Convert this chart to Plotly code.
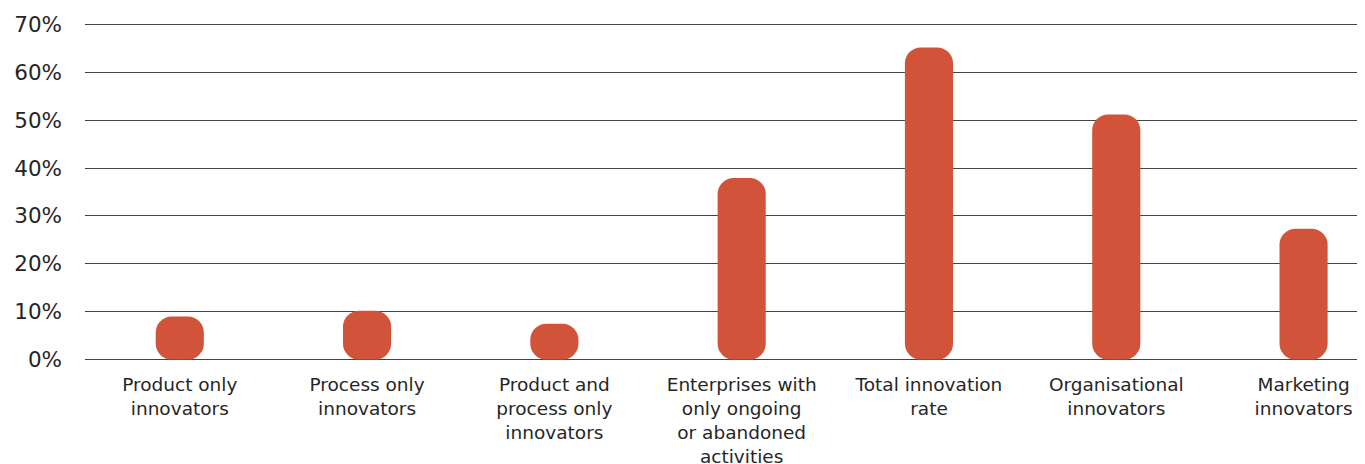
import plotly.graph_objects as go

categories = [
    "Product only<br>innovators",
    "Process only<br>innovators",
    "Product and<br>process only<br>innovators",
    "Enterprises with<br>only ongoing<br>or abandoned<br>activities",
    "Total innovation<br>rate",
    "Organisational<br>innovators",
    "Marketing<br>innovators",
]
values = [9.0, 10.2, 7.5, 37.9, 65.2, 51.2, 27.3]
y_ticks = [0, 10, 20, 30, 40, 50, 60, 70]
y_labels = ["0%", "10%", "20%", "30%", "40%", "50%", "60%", "70%"]

BAR_COLOR = "#D1533A"
FONT = "DejaVu Sans"
TEXT_COLOR = "#262626"

xs = list(range(len(categories)))
bases = [0 for v in values]

fig = go.Figure()
fig.add_trace(go.Bar(x=xs, y=values, base=bases, width=0.257,
                     marker=dict(color=BAR_COLOR, cornerradius=16, line=dict(width=0)),
                     hovertemplate="%{y}%<extra></extra>",
                     showlegend=False))

fig.update_layout(
    width=1357, height=456,
    barmode="overlay",
    paper_bgcolor="white", plot_bgcolor="white",
    margin=dict(l=77, r=0, t=13.6, b=101.6),
    font=dict(family=FONT, color=TEXT_COLOR),
    xaxis=dict(
        range=[-0.506, 6.328],
        tickmode="array", tickvals=xs, ticktext=categories,
        tickfont=dict(size=18.5, family=FONT, color=TEXT_COLOR),
        showgrid=False, zeroline=False, showline=False, ticks="",
        ticklabelstandoff=9, automargin=False,
    ),
    yaxis=dict(
        range=[-0.5, 70.5],
        tickmode="array", tickvals=y_ticks, ticktext=y_labels,
        tickfont=dict(size=21.5, family=FONT, color=TEXT_COLOR),
        showgrid=True, gridcolor="#444444", gridwidth=1,
        zeroline=False, showline=False, ticks="",
        ticklabelstandoff=22, automargin=False,
    ),
)

fig.write_html("out.html")
